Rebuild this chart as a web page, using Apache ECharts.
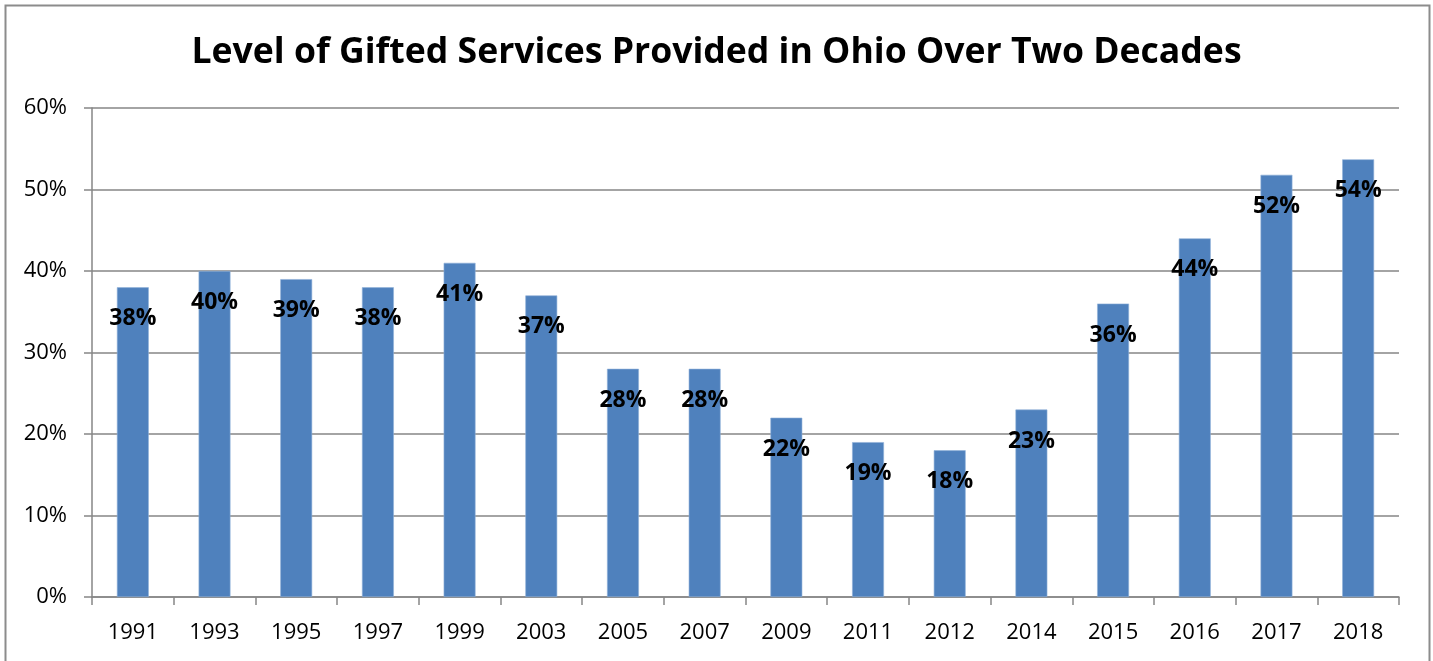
<!DOCTYPE html>
<html>
<head>
<meta charset="utf-8">
<script src="https://cdn.jsdelivr.net/npm/echarts@6/dist/echarts.min.js"></script>
<style>
  html, body { margin: 0; padding: 0; background: #ffffff; }
  #chart { width: 1433px; height: 661px; }
</style>
</head>
<body>
<div id="chart"></div>
<script>
// Share of Ohio districts providing gifted services, by survey year (percent)
const years = ['1991', '1993', '1995', '1997', '1999', '2003', '2005', '2007',
               '2009', '2011', '2012', '2014', '2015', '2016', '2017', '2018'];
const servicePct = [38, 40, 39, 38, 41, 37, 28, 28, 22, 19, 18, 23, 36, 44, 51.8, 53.7];
const yTicks = [0, 10, 20, 30, 40, 50, 60];

const FONT = '"Open Sans", "Liberation Sans", sans-serif';
const GRID_GRAY = '#868686';

const chart = echarts.init(document.getElementById('chart'), null, { renderer: 'canvas' });

chart.setOption({
  animation: false,
  backgroundColor: '#ffffff',
  title: {
    text: 'Level of Gifted Services Provided in Ohio Over Two Decades',
    left: 'center',
    top: 30,
    textStyle: { fontFamily: FONT, fontWeight: 'bold', fontSize: 35.6, color: '#000000' }
  },
  graphic: [{
    type: 'rect',
    left: 3, top: 3,
    shape: { width: 1424, height: 700 },
    style: { fill: 'none', stroke: '#8c8c8c', lineWidth: 2 },
    silent: true
  }],
  grid: { left: 92, right: 34, top: 108, bottom: 64, containLabel: false },
  xAxis: {
    type: 'category',
    data: years,
    boundaryGap: true,
    axisLine: { show: true, lineStyle: { color: GRID_GRAY, width: 1.5 } },
    axisTick: { show: true, length: 8, alignWithLabel: false, lineStyle: { color: GRID_GRAY, width: 1.5 } },
    axisLabel: { margin: 25, fontFamily: FONT, fontSize: 22, color: '#000000' }
  },
  yAxis: {
    type: 'value',
    min: yTicks[0],
    max: yTicks[yTicks.length - 1],
    interval: 10,
    axisLine: { show: true, lineStyle: { color: GRID_GRAY, width: 1.5 } },
    axisTick: { show: true, length: 8, lineStyle: { color: GRID_GRAY, width: 1.5 } },
    splitLine: { show: true, lineStyle: { color: GRID_GRAY, width: 1.5 } },
    axisLabel: {
      margin: 25, fontFamily: FONT, fontSize: 22, color: '#000000',
      formatter: v => v + '%'
    }
  },
  series: [{
    type: 'bar',
    data: servicePct,
    barWidth: '39%',
    itemStyle: { color: '#4f81bd', borderColor: '#8fb0d8', borderWidth: 0.6 },
    label: {
      show: true,
      position: 'insideTop',
      distance: 20,
      fontFamily: FONT,
      fontWeight: 'bold',
      fontSize: 23,
      color: '#000000',
      formatter: p => Math.round(p.value) + '%'
    }
  }]
});
</script>
</body>
</html>
